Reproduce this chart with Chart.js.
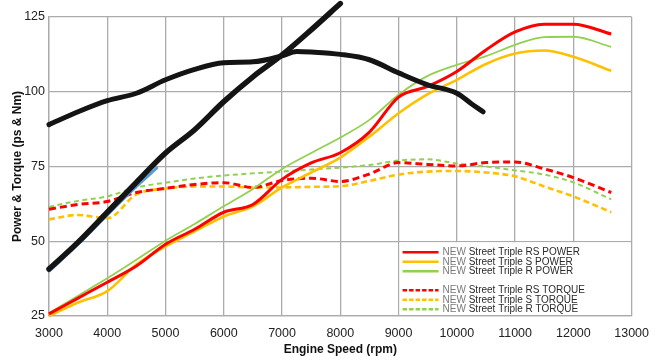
<!DOCTYPE html>
<html>
<head>
<meta charset="utf-8">
<script src="https://cdn.jsdelivr.net/npm/chart.js@4.4.1/dist/chart.umd.min.js"></script>
<style>
html, body { margin: 0; padding: 0; background: #fff; }
#wrap { width: 659px; height: 363px; }
</style>
</head>
<body>
<div id="wrap"><canvas id="chart"></canvas></div>
<script>
// DATA
const rpm = [3000, 3500, 4000, 4500, 5000, 5500, 6000, 6500, 7000, 7500, 8000, 8500, 9000, 9500, 10000, 10500, 11000, 11500, 12000, 12650];

const rsPower = [25.7, 31, 36.3, 41.7, 49, 54, 59.7, 62.3, 70.7, 76.2, 79.6, 86.5, 98.2, 101.8, 106.8, 114, 120, 122.6, 122.6, 119.3];
const sPower  = [25, 29.5, 33.3, 42.2, 48.3, 53.3, 58.3, 61.7, 68, 73, 78, 85, 92.8, 99.2, 104, 109.3, 112.8, 113.8, 111.7, 107];
const rPower  = [26, 31.8, 37.6, 43.8, 50.2, 55.8, 61.7, 67.5, 74.2, 79.5, 84.7, 90.6, 99, 105.3, 109, 111.9, 115.7, 118.3, 118.4, 115];

const rsTorque = [60.7, 62.3, 63.3, 66.3, 67.7, 69, 69.6, 68, 70.3, 71.1, 70, 72.5, 76.3, 75.7, 75.2, 76.3, 76.5, 74.2, 71.3, 66.3];
const sTorque  = [57.3, 58.8, 57.7, 65.7, 67.6, 68.3, 68.3, 68, 68, 68.2, 68.4, 70.2, 72.3, 73.3, 73.5, 73, 71.7, 68.3, 65, 59.7];
const rTorque  = [61.5, 63.5, 65, 68, 69.6, 71, 72, 72.7, 73.3, 74, 74.6, 75.5, 77, 77.4, 76, 75, 73.7, 72.3, 69.7, 64];

// hand drawn marker traces over the sheet
const markTorqueRpm = [3000, 3500, 4000, 4500, 5000, 5500, 6000, 6500, 7000, 7250, 7500, 8000, 8500, 9000, 9500, 10000, 10250, 10450];
const markTorque    = [89, 93.3, 97, 99.5, 104, 107.5, 109.7, 110, 112, 113.5, 113.3, 112.5, 110.7, 106.3, 102.3, 99.5, 96, 93.3];
const markPowerRpm  = [3000, 3500, 4000, 4500, 5000, 5500, 6000, 6500, 7000, 7500, 8000];
const markPower     = [40.7, 49.7, 59.7, 69.7, 79.5, 87.3, 96.7, 105, 112.3, 120.7, 129.5];
const bluePowerRpm  = [3000, 3500, 4000, 4500, 4850];
const bluePower     = [40, 49, 58.8, 68.3, 74.5];

const rpmTicks = [3000, 4000, 5000, 6000, 7000, 8000, 9000, 10000, 11000, 12000, 13000];
const valueTicks = [25, 50, 75, 100, 125];

const RED = '#ff0000', YELLOW = '#ffc000', GREEN = '#92d050';

function pts(xs, ys) {
    return xs.map((x, i) => ({ x: x, y: ys[i] }));
}

function curve(label, xs, ys, color, width, dash) {
    return {
        label: label,
        data: pts(xs, ys),
        borderColor: color,
        backgroundColor: color,
        borderWidth: width,
        borderDash: dash || [],
        pointRadius: 0,
        fill: false,
        cubicInterpolationMode: 'monotone',
        inLegend: true,
        clip: false
    };
}

function marker(xs, ys, color, width) {
    return {
        data: pts(xs, ys),
        borderColor: color,
        borderWidth: width,
        pointRadius: 0,
        fill: false,
        cubicInterpolationMode: 'monotone',
        borderCapStyle: 'round',
        inLegend: false,
        clip: false
    };
}

// white box with the little legend, bottom right of the plot
const legendBox = {
    id: 'legendBox',
    beforeDatasetsDraw(chart) {
        const { ctx, scales: { x, y } } = chart;
        const l = x.getPixelForValue(9000) + 1, r = x.getPixelForValue(13000) - 1;
        const t = y.getPixelForValue(50) + 1, b = y.getPixelForValue(25) - 1;
        ctx.save();
        ctx.fillStyle = '#fff';
        ctx.fillRect(l, t, r - l, b - t);
        ctx.restore();
    },
    afterDraw(chart) {
        const { ctx, scales: { x, y } } = chart;
        const l = x.getPixelForValue(9000);
        const t = y.getPixelForValue(50);
        const rows = [11, 20.5, 30, 49, 58.5, 68];
        const items = chart.data.datasets.filter(d => d.inLegend);
        const order = ['RS POWER', 'S POWER', 'R POWER', 'RS TORQUE', 'S TORQUE', 'R TORQUE'];
        ctx.save();
        ctx.font = '10px "Liberation Sans", Arial, sans-serif';
        ctx.textBaseline = 'middle';
        order.forEach((key, i) => {
            const d = items.find(it => it.label.indexOf('Triple ' + key) > 0);
            if (!d) return;
            const yy = t + rows[i];
            ctx.beginPath();
            ctx.strokeStyle = d.borderColor;
            ctx.lineWidth = 2.5;
            ctx.setLineDash(d.borderDash.length ? [4.5, 2] : []);
            ctx.moveTo(l + 4, yy);
            ctx.lineTo(l + 40, yy);
            ctx.stroke();
            ctx.setLineDash([]);
            const first = d.label.split(' ')[0] + ' ';
            const rest = d.label.slice(first.length);
            ctx.fillStyle = '#7a7a7a';
            ctx.fillText(first, l + 44, yy);
            ctx.fillStyle = '#2a2a2a';
            ctx.fillText(rest, l + 44 + ctx.measureText(first).width, yy);
        });
        ctx.restore();
    }
};

const datasets = [
    marker(markPowerRpm, markPower, '#141414', 5.5),
    marker(markTorqueRpm, markTorque, '#141414', 5),
    marker(bluePowerRpm, bluePower, '#5b9bd5', 3),
    curve('NEW Street Triple RS POWER', rpm, rsPower, RED, 3),
    curve('NEW Street Triple S POWER', rpm, sPower, YELLOW, 2.6),
    curve('NEW Street Triple R POWER', rpm, rPower, GREEN, 1.8),
    curve('NEW Street Triple RS TORQUE', rpm, rsTorque, RED, 3, [7, 4]),
    curve('NEW Street Triple S TORQUE', rpm, sTorque, YELLOW, 2.6, [6, 3.5]),
    curve('NEW Street Triple R TORQUE', rpm, rTorque, GREEN, 2, [5, 3.5])
];

const tickFont = { family: '"Liberation Sans", Arial, sans-serif', size: 12.5 };
const titleFont = { family: '"Liberation Sans", Arial, sans-serif', size: 12, weight: 'bold' };

new Chart(document.getElementById('chart'), {
    type: 'line',
    data: { datasets: datasets },
    options: {
        responsive: true,
        maintainAspectRatio: false,
        animation: false,
        layout: { padding: { left: 0, right: 25, top: 17, bottom: 0 } },
        plugins: {
            legend: { display: false },
            tooltip: { enabled: false }
        },
        scales: {
            x: {
                type: 'linear',
                min: 3000,
                max: 13000,
                afterBuildTicks: s => { s.ticks = rpmTicks.map(v => ({ value: v })); },
                afterFit: s => { s.height = 47; },
                grid: { color: '#ababab', lineWidth: 1.3, drawTicks: false },
                border: { color: '#ababab', width: 1.3 },
                ticks: { color: '#222', font: tickFont, padding: 10, maxRotation: 0, callback: v => String(v) },
                title: { display: true, text: 'Engine Speed (rpm)', color: '#111', font: titleFont, padding: { top: 0, bottom: 6 } }
            },
            y: {
                min: 25,
                max: 125,
                afterBuildTicks: s => { s.ticks = valueTicks.map(v => ({ value: v })); },
                afterFit: s => { s.width = 49; },
                grid: { color: '#ababab', lineWidth: 1.3, drawTicks: false },
                border: { color: '#ababab', width: 1.3 },
                ticks: { color: '#222', font: tickFont, padding: 4, callback: v => String(v) },
                title: { display: true, text: 'Power & Torque (ps & Nm)', color: '#111', font: titleFont, padding: { top: 10, bottom: 0 } }
            }
        }
    },
    plugins: [legendBox]
});
</script>
</body>
</html>
